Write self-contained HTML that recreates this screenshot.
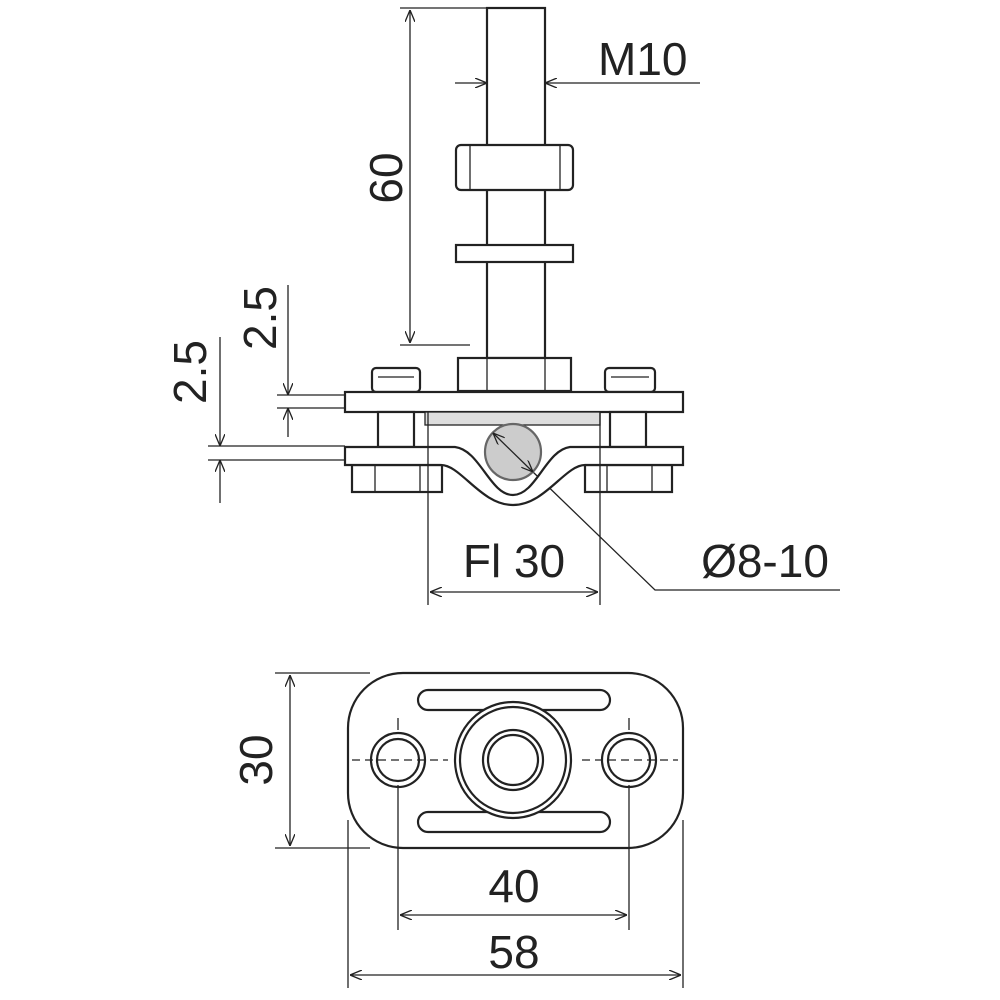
<!DOCTYPE html>
<html><head><style>body{margin:0;background:#fff}svg{display:block}</style></head><body>
<svg width="1000" height="1000" viewBox="0 0 1000 1000" xmlns="http://www.w3.org/2000/svg" font-family="Liberation Sans, DejaVu Sans, sans-serif">
<defs>
<marker id="a" viewBox="0 0 12 10" refX="12" refY="5" markerWidth="12" markerHeight="10" orient="auto-start-reverse" markerUnits="userSpaceOnUse"><path d="M0,0 L12,5 L0,10" fill="none" stroke="#222" stroke-width="1.3"/></marker>
</defs>
<g stroke="#222" fill="none" stroke-width="1.3">
<line x1="400" y1="8" x2="487" y2="8"/><line x1="400" y1="345" x2="470" y2="345"/>
<line x1="410" y1="10" x2="410" y2="343" marker-start="url(#a)" marker-end="url(#a)"/>
<line x1="455" y1="83" x2="487" y2="83" marker-end="url(#a)"/>
<line x1="700" y1="83" x2="545" y2="83" marker-end="url(#a)"/>
<line x1="277" y1="395" x2="345" y2="395"/><line x1="277" y1="408" x2="345" y2="408"/>
<line x1="288" y1="285" x2="288" y2="395" marker-end="url(#a)"/>
<line x1="288" y1="437" x2="288" y2="408" marker-end="url(#a)"/>
<line x1="208" y1="446" x2="345" y2="446"/><line x1="208" y1="460" x2="345" y2="460"/>
<line x1="220" y1="337" x2="220" y2="446" marker-end="url(#a)"/>
<line x1="220" y1="503" x2="220" y2="460" marker-end="url(#a)"/>
<line x1="430" y1="592" x2="598" y2="592" marker-start="url(#a)" marker-end="url(#a)"/>
<polyline points="533,472 655,590 840,590"/>
</g>
<g stroke="#222" stroke-width="2.2" fill="#fff">
<rect x="487" y="8" width="58" height="350"/>
<rect x="456" y="145" width="117" height="45" rx="5"/>
<rect x="456" y="245" width="117" height="17"/>
<rect x="458" y="358" width="113" height="33"/>
<rect x="372" y="368" width="48" height="24" rx="4"/>
<rect x="605" y="368" width="50" height="24" rx="4"/>
<rect x="345" y="392" width="338" height="20"/>
<rect x="352" y="465" width="90" height="27"/>
<rect x="585" y="465" width="87" height="27"/>
<rect x="378" y="412" width="36" height="35"/>
<rect x="610" y="412" width="36" height="35"/>
<rect x="425" y="412" width="175" height="13" fill="#ddd" stroke-width="1.3"/>
<path d="M345,447 H455 C480,450 490,495 513,495 C536,495 546,450 570,447 H683 V465 H585 C565,465 545,505 513,505 C481,505 461,465 441,465 H345 Z"/>
<circle cx="513" cy="452" r="28" fill="#ccc" stroke="#666"/>
</g>
<g stroke="#222" stroke-width="1.3" fill="none">
<line x1="428" y1="412" x2="428" y2="605"/><line x1="600" y1="412" x2="600" y2="605"/>
<line x1="493" y1="433" x2="533" y2="472" marker-start="url(#a)" marker-end="url(#a)"/>
<line x1="470" y1="145" x2="470" y2="190"/><line x1="560" y1="145" x2="560" y2="190"/>
<line x1="487" y1="358" x2="487" y2="391"/><line x1="545" y1="358" x2="545" y2="391"/>
<line x1="375" y1="465" x2="375" y2="492"/><line x1="420" y1="465" x2="420" y2="492"/>
<line x1="607" y1="465" x2="607" y2="492"/><line x1="652" y1="465" x2="652" y2="492"/>
<line x1="378" y1="377" x2="414" y2="377"/><line x1="611" y1="377" x2="649" y2="377"/>
</g>
<g stroke="#222" stroke-width="2.2" fill="none">
<rect x="348" y="673" width="335" height="175" rx="55"/>
<rect x="418" y="690" width="192" height="20" rx="10"/>
<rect x="418" y="812" width="192" height="20" rx="10"/>
<circle cx="513" cy="760" r="58" fill="#fff"/><circle cx="513" cy="760" r="53"/>
<circle cx="513" cy="760" r="30"/><circle cx="513" cy="760" r="25"/>
<circle cx="398" cy="760" r="27"/><circle cx="398" cy="760" r="21"/>
<circle cx="629" cy="760" r="27"/><circle cx="629" cy="760" r="21"/>
</g>
<g stroke="#222" stroke-width="1.3" fill="none">
<line x1="352" y1="760" x2="448" y2="760" stroke-dasharray="8,5"/>
<line x1="582" y1="760" x2="678" y2="760" stroke-dasharray="8,5"/>
<line x1="398" y1="718" x2="398" y2="730"/><line x1="629" y1="718" x2="629" y2="730"/>
<line x1="398" y1="785" x2="398" y2="930"/><line x1="629" y1="785" x2="629" y2="930"/>
<line x1="400" y1="915" x2="627" y2="915" marker-start="url(#a)" marker-end="url(#a)"/>
<line x1="348" y1="820" x2="348" y2="988"/><line x1="683" y1="820" x2="683" y2="988"/>
<line x1="350" y1="975" x2="681" y2="975" marker-start="url(#a)" marker-end="url(#a)"/>
<line x1="275" y1="673" x2="370" y2="673"/><line x1="275" y1="848" x2="370" y2="848"/>
<line x1="290" y1="675" x2="290" y2="846" marker-start="url(#a)" marker-end="url(#a)"/>
</g>
<g fill="#222" font-size="46">
<text x="598" y="75">M10</text>
<text transform="translate(402,178) rotate(-90)" text-anchor="middle">60</text>
<text transform="translate(276,318) rotate(-90)" text-anchor="middle">2.5</text>
<text transform="translate(206,372) rotate(-90)" text-anchor="middle">2.5</text>
<text x="514" y="577" text-anchor="middle">Fl 30</text>
<text x="765" y="577" text-anchor="middle">Ø8-10</text>
<text transform="translate(272,760) rotate(-90)" text-anchor="middle">30</text>
<text x="514" y="902" text-anchor="middle">40</text>
<text x="514" y="968" text-anchor="middle">58</text>
</g>
</svg>
</body></html>
